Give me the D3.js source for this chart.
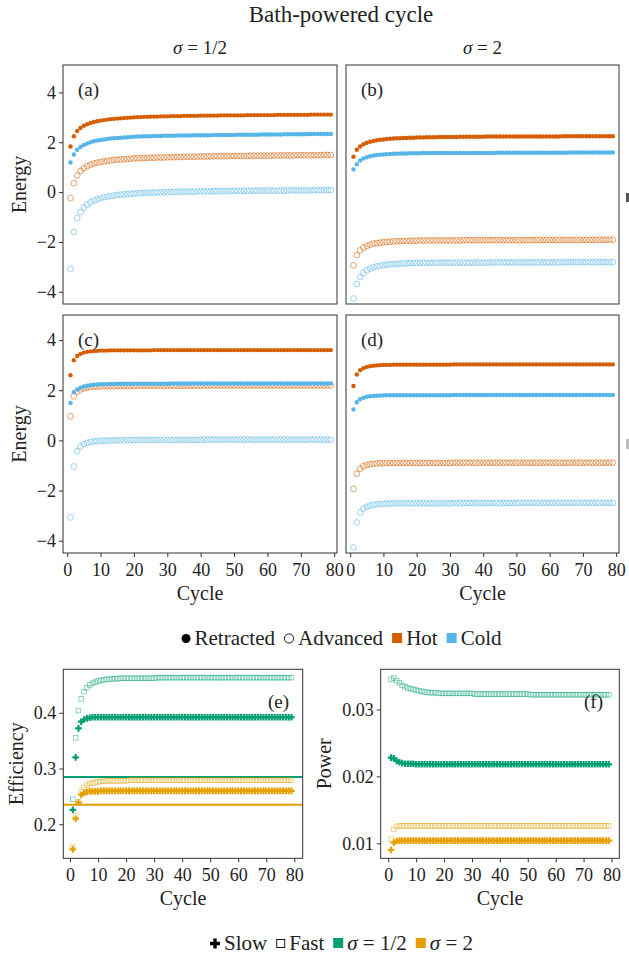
<!DOCTYPE html>
<html>
<head>
<meta charset="utf-8">
<script src="https://cdn.jsdelivr.net/npm/d3@7"></script>
<style>
  body { margin: 0; background: #fff; }
  text { font-family: "Liberation Serif", "Times New Roman", serif; fill: #222; }
</style>
</head>
<body>
<svg id="chart" width="629" height="956"></svg>
<script>
// ==========================================
// DATA (cycles 1..79)
// ==========================================
const cycles = d3.range(1, 80);

// panel (a): sigma = 1/2, top row
const aRH = [1.83,2.24,2.45,2.57,2.66,2.72,2.77,2.81,2.84,2.87,
  2.89,2.91,2.93,2.94,2.95,2.96,2.97,2.98,2.99,3.00,
  3.01,3.01,3.02,3.02,3.03,3.03,3.03,3.04,3.04,3.04,
  3.05,3.05,3.05,3.05,3.06,3.06,3.06,3.06,3.06,3.07,
  3.07,3.07,3.07,3.07,3.07,3.08,3.08,3.08,3.08,3.08,
  3.08,3.08,3.08,3.09,3.09,3.09,3.09,3.09,3.09,3.09,
  3.09,3.09,3.10,3.10,3.10,3.10,3.10,3.10,3.10,3.10,
  3.10,3.10,3.11,3.11,3.11,3.11,3.11,3.11,3.11];
const aRC = [1.19,1.51,1.70,1.81,1.89,1.95,2.00,2.04,2.07,2.09,
  2.11,2.13,2.15,2.16,2.17,2.18,2.19,2.20,2.21,2.22,
  2.23,2.23,2.24,2.24,2.24,2.25,2.25,2.25,2.26,2.26,
  2.26,2.26,2.27,2.27,2.27,2.27,2.27,2.28,2.28,2.28,
  2.28,2.28,2.28,2.29,2.29,2.29,2.29,2.29,2.29,2.29,
  2.30,2.30,2.30,2.30,2.30,2.30,2.30,2.31,2.31,2.31,
  2.31,2.31,2.31,2.31,2.32,2.32,2.32,2.32,2.32,2.32,
  2.32,2.33,2.33,2.33,2.33,2.33,2.33,2.33,2.33];
const aAH = [-0.24,0.36,0.67,0.85,0.96,1.04,1.10,1.15,1.18,1.21,
  1.23,1.25,1.27,1.29,1.30,1.31,1.32,1.33,1.34,1.35,
  1.36,1.36,1.37,1.37,1.38,1.38,1.39,1.39,1.39,1.40,
  1.40,1.40,1.41,1.41,1.41,1.42,1.42,1.42,1.42,1.43,
  1.43,1.43,1.43,1.44,1.44,1.44,1.44,1.44,1.45,1.45,
  1.45,1.45,1.45,1.45,1.46,1.46,1.46,1.46,1.46,1.46,
  1.46,1.47,1.47,1.47,1.47,1.47,1.47,1.47,1.48,1.48,
  1.48,1.48,1.48,1.48,1.48,1.48,1.49,1.49,1.49];
const aAC = [-3.08,-1.60,-1.04,-0.80,-0.62,-0.50,-0.41,-0.34,-0.29,-0.25,
  -0.21,-0.18,-0.16,-0.14,-0.12,-0.10,-0.09,-0.08,-0.07,-0.06,
  -0.05,-0.04,-0.03,-0.03,-0.02,-0.02,-0.01,-0.01,0.00,0.00,
  0.00,0.01,0.01,0.01,0.02,0.02,0.02,0.02,0.03,0.03,
  0.03,0.03,0.03,0.04,0.04,0.04,0.04,0.04,0.04,0.05,
  0.05,0.05,0.05,0.05,0.05,0.05,0.06,0.06,0.06,0.06,
  0.06,0.06,0.06,0.06,0.06,0.07,0.07,0.07,0.07,0.07,
  0.07,0.07,0.07,0.07,0.08,0.08,0.08,0.08,0.08];

// panel (b): sigma = 2, top row
const bRH = [1.42,1.70,1.83,1.92,1.98,2.02,2.05,2.08,2.10,2.11,
  2.13,2.14,2.15,2.16,2.16,2.17,2.17,2.18,2.18,2.19,
  2.19,2.19,2.20,2.20,2.20,2.20,2.21,2.21,2.21,2.21,
  2.21,2.21,2.22,2.22,2.22,2.22,2.22,2.22,2.22,2.22,
  2.23,2.23,2.23,2.23,2.23,2.23,2.23,2.23,2.23,2.23,
  2.23,2.23,2.23,2.23,2.23,2.23,2.23,2.23,2.23,2.23,
  2.23,2.23,2.23,2.24,2.24,2.24,2.24,2.24,2.24,2.24,
  2.24,2.24,2.24,2.24,2.24,2.24,2.24,2.24,2.24];
const bRC = [0.91,1.12,1.27,1.35,1.40,1.44,1.47,1.49,1.50,1.51,
  1.52,1.53,1.54,1.54,1.55,1.55,1.55,1.56,1.56,1.56,
  1.56,1.57,1.57,1.57,1.57,1.57,1.57,1.57,1.57,1.57,
  1.57,1.57,1.57,1.57,1.57,1.57,1.57,1.57,1.57,1.57,
  1.57,1.57,1.57,1.58,1.58,1.58,1.58,1.58,1.58,1.58,
  1.58,1.58,1.58,1.58,1.58,1.58,1.58,1.58,1.58,1.58,
  1.58,1.58,1.58,1.58,1.58,1.59,1.59,1.59,1.59,1.59,
  1.59,1.59,1.59,1.59,1.59,1.59,1.59,1.59,1.59];
const bAH = [-2.94,-2.53,-2.34,-2.23,-2.16,-2.11,-2.07,-2.05,-2.03,-2.01,
  -2.00,-1.99,-1.98,-1.97,-1.97,-1.96,-1.96,-1.95,-1.95,-1.95,
  -1.94,-1.94,-1.94,-1.94,-1.94,-1.94,-1.94,-1.94,-1.94,-1.94,
  -1.94,-1.94,-1.94,-1.93,-1.93,-1.93,-1.93,-1.93,-1.93,-1.93,
  -1.93,-1.93,-1.93,-1.93,-1.93,-1.93,-1.93,-1.93,-1.93,-1.93,
  -1.93,-1.93,-1.93,-1.93,-1.93,-1.92,-1.92,-1.92,-1.92,-1.92,
  -1.92,-1.92,-1.92,-1.92,-1.92,-1.92,-1.92,-1.92,-1.92,-1.92,
  -1.92,-1.92,-1.92,-1.92,-1.91,-1.91,-1.91,-1.91,-1.91];
const bAC = [-4.27,-3.69,-3.41,-3.25,-3.14,-3.07,-3.02,-2.98,-2.95,-2.93,
  -2.91,-2.90,-2.89,-2.88,-2.87,-2.86,-2.86,-2.85,-2.85,-2.84,
  -2.84,-2.84,-2.84,-2.84,-2.84,-2.83,-2.83,-2.83,-2.83,-2.83,
  -2.83,-2.83,-2.83,-2.83,-2.83,-2.83,-2.83,-2.83,-2.83,-2.83,
  -2.83,-2.83,-2.82,-2.82,-2.82,-2.82,-2.82,-2.82,-2.82,-2.82,
  -2.82,-2.82,-2.82,-2.82,-2.82,-2.82,-2.82,-2.82,-2.82,-2.82,
  -2.82,-2.82,-2.82,-2.82,-2.81,-2.81,-2.81,-2.81,-2.81,-2.81,
  -2.81,-2.81,-2.81,-2.81,-2.81,-2.81,-2.81,-2.81,-2.81];

// panel (c): sigma = 1/2, bottom row
const cRH = [2.60,3.20,3.37,3.45,3.50,3.53,3.55,3.56,3.57,3.58,
  3.58,3.58,3.59,3.59,3.59,3.59,3.59,3.59,3.59,3.59,
  3.59,3.59,3.59,3.59,3.59,3.60,3.60,3.60,3.60,3.60,
  3.60,3.60,3.60,3.60,3.60,3.60,3.60,3.60,3.60,3.60,
  3.60,3.60,3.60,3.60,3.60,3.60,3.60,3.60,3.60,3.60,
  3.60,3.60,3.60,3.60,3.60,3.60,3.60,3.60,3.60,3.60,
  3.60,3.60,3.60,3.60,3.60,3.60,3.60,3.60,3.60,3.60,
  3.60,3.60,3.60,3.60,3.60,3.60,3.60,3.60,3.60];
const cRC = [1.49,1.92,2.03,2.10,2.15,2.18,2.20,2.22,2.23,2.24,
  2.24,2.25,2.25,2.25,2.26,2.26,2.26,2.26,2.26,2.26,
  2.26,2.26,2.26,2.26,2.26,2.26,2.26,2.26,2.26,2.26,
  2.27,2.27,2.27,2.27,2.27,2.27,2.27,2.27,2.27,2.27,
  2.27,2.27,2.27,2.27,2.27,2.27,2.27,2.27,2.27,2.27,
  2.27,2.27,2.27,2.27,2.27,2.27,2.27,2.27,2.27,2.27,
  2.27,2.27,2.27,2.27,2.27,2.27,2.27,2.27,2.27,2.27,
  2.27,2.27,2.27,2.27,2.27,2.27,2.27,2.27,2.27];
const cAH = [0.96,1.76,1.95,2.03,2.08,2.11,2.13,2.14,2.15,2.15,
  2.16,2.16,2.16,2.16,2.17,2.17,2.17,2.17,2.17,2.17,
  2.18,2.18,2.18,2.18,2.18,2.18,2.18,2.18,2.18,2.18,
  2.18,2.18,2.18,2.18,2.18,2.18,2.18,2.18,2.18,2.18,
  2.19,2.19,2.19,2.19,2.19,2.19,2.19,2.19,2.19,2.19,
  2.19,2.19,2.19,2.19,2.19,2.19,2.19,2.19,2.19,2.19,
  2.19,2.19,2.19,2.19,2.19,2.19,2.19,2.19,2.19,2.19,
  2.19,2.19,2.19,2.19,2.19,2.19,2.19,2.19,2.19];
const cAC = [-3.07,-1.04,-0.43,-0.24,-0.15,-0.10,-0.06,-0.04,-0.03,-0.02,
  -0.01,-0.01,0.00,0.00,0.00,0.01,0.01,0.01,0.01,0.01,
  0.02,0.02,0.02,0.02,0.02,0.02,0.02,0.02,0.02,0.02,
  0.02,0.02,0.02,0.02,0.02,0.02,0.02,0.02,0.02,0.02,
  0.03,0.03,0.03,0.03,0.03,0.03,0.03,0.03,0.03,0.03,
  0.03,0.03,0.03,0.03,0.03,0.03,0.03,0.03,0.03,0.03,
  0.03,0.03,0.03,0.03,0.03,0.03,0.03,0.03,0.03,0.03,
  0.03,0.03,0.03,0.03,0.03,0.03,0.03,0.03,0.03];

// panel (d): sigma = 2, bottom row
const dRH = [2.17,2.63,2.80,2.88,2.93,2.96,2.98,2.99,3.00,3.01,
  3.01,3.01,3.02,3.02,3.02,3.02,3.02,3.02,3.02,3.02,
  3.02,3.02,3.02,3.02,3.02,3.02,3.02,3.02,3.02,3.02,
  3.03,3.03,3.03,3.03,3.03,3.03,3.03,3.03,3.03,3.03,
  3.03,3.03,3.03,3.03,3.03,3.03,3.03,3.03,3.03,3.03,
  3.03,3.03,3.03,3.03,3.03,3.03,3.03,3.03,3.03,3.03,
  3.03,3.03,3.03,3.03,3.03,3.03,3.03,3.03,3.03,3.03,
  3.03,3.03,3.03,3.03,3.03,3.03,3.03,3.03,3.03];
const dRC = [1.23,1.52,1.64,1.70,1.74,1.76,1.77,1.78,1.79,1.79,
  1.80,1.80,1.80,1.80,1.80,1.80,1.80,1.80,1.80,1.80,
  1.80,1.80,1.80,1.80,1.80,1.80,1.80,1.80,1.80,1.80,
  1.81,1.81,1.81,1.81,1.81,1.81,1.81,1.81,1.81,1.81,
  1.81,1.81,1.81,1.81,1.81,1.81,1.81,1.81,1.81,1.81,
  1.81,1.81,1.81,1.81,1.81,1.81,1.81,1.81,1.81,1.81,
  1.81,1.81,1.81,1.81,1.81,1.81,1.81,1.81,1.81,1.81,
  1.81,1.81,1.81,1.81,1.81,1.81,1.81,1.81,1.81];
const dAH = [-1.93,-1.33,-1.13,-1.03,-0.98,-0.95,-0.93,-0.92,-0.91,-0.91,
  -0.90,-0.90,-0.90,-0.90,-0.90,-0.90,-0.90,-0.90,-0.90,-0.90,
  -0.90,-0.90,-0.90,-0.90,-0.90,-0.90,-0.90,-0.90,-0.90,-0.90,
  -0.89,-0.89,-0.89,-0.89,-0.89,-0.89,-0.89,-0.89,-0.89,-0.89,
  -0.89,-0.89,-0.89,-0.89,-0.89,-0.89,-0.89,-0.89,-0.89,-0.89,
  -0.89,-0.89,-0.89,-0.89,-0.89,-0.89,-0.89,-0.89,-0.89,-0.89,
  -0.89,-0.89,-0.89,-0.89,-0.89,-0.89,-0.89,-0.89,-0.89,-0.89,
  -0.89,-0.89,-0.89,-0.89,-0.89,-0.89,-0.89,-0.89,-0.89];
const dAC = [-4.27,-3.27,-2.87,-2.72,-2.65,-2.60,-2.57,-2.55,-2.54,-2.53,
  -2.52,-2.52,-2.51,-2.51,-2.51,-2.51,-2.51,-2.51,-2.51,-2.51,
  -2.51,-2.51,-2.51,-2.51,-2.51,-2.51,-2.51,-2.51,-2.51,-2.51,
  -2.50,-2.50,-2.50,-2.50,-2.50,-2.50,-2.50,-2.50,-2.50,-2.50,
  -2.50,-2.50,-2.50,-2.50,-2.50,-2.50,-2.50,-2.50,-2.50,-2.50,
  -2.49,-2.49,-2.49,-2.49,-2.49,-2.49,-2.49,-2.49,-2.49,-2.49,
  -2.49,-2.49,-2.49,-2.49,-2.49,-2.49,-2.49,-2.49,-2.49,-2.49,
  -2.49,-2.49,-2.49,-2.49,-2.49,-2.49,-2.49,-2.49,-2.49];

// panel (e): efficiency, green = sigma 1/2, orange = sigma 2
const effGreenSlow = [0.226,0.320,0.372,0.384,0.388,0.390,0.391,0.392,0.392,0.392,
  0.392,0.392,0.392,0.392,0.392,0.392,0.392,0.392,0.392,0.392,
  0.392,0.392,0.392,0.392,0.392,0.392,0.392,0.392,0.392,0.392,
  0.392,0.392,0.392,0.392,0.392,0.392,0.392,0.392,0.392,0.392,
  0.392,0.392,0.392,0.392,0.392,0.392,0.392,0.392,0.392,0.392,
  0.392,0.392,0.392,0.392,0.392,0.392,0.392,0.392,0.392,0.392,
  0.392,0.392,0.392,0.392,0.392,0.392,0.392,0.392,0.392,0.392,
  0.392,0.392,0.392,0.392,0.392,0.392,0.392,0.392,0.392];
const effGreenFast = [0.245,0.355,0.404,0.425,0.438,0.445,0.450,0.453,0.455,0.457,
  0.458,0.459,0.460,0.460,0.461,0.461,0.461,0.462,0.462,0.462,
  0.462,0.462,0.462,0.462,0.462,0.462,0.462,0.462,0.462,0.462,
  0.463,0.463,0.463,0.463,0.463,0.463,0.463,0.463,0.463,0.463,
  0.463,0.463,0.463,0.463,0.463,0.463,0.463,0.463,0.463,0.463,
  0.463,0.463,0.463,0.463,0.463,0.463,0.463,0.463,0.463,0.463,
  0.463,0.463,0.463,0.463,0.463,0.463,0.463,0.463,0.463,0.463,
  0.463,0.463,0.463,0.463,0.463,0.463,0.463,0.463,0.463];
const effOrangeSlow = [0.155,0.210,0.239,0.253,0.256,0.258,0.259,0.259,0.259,0.259,
  0.260,0.260,0.260,0.260,0.260,0.260,0.260,0.260,0.260,0.260,
  0.260,0.260,0.260,0.260,0.260,0.260,0.260,0.260,0.260,0.260,
  0.260,0.260,0.260,0.260,0.260,0.260,0.260,0.260,0.260,0.260,
  0.260,0.260,0.260,0.260,0.260,0.260,0.260,0.260,0.260,0.260,
  0.260,0.260,0.260,0.260,0.260,0.260,0.260,0.260,0.260,0.260,
  0.260,0.260,0.260,0.260,0.260,0.260,0.260,0.260,0.260,0.260,
  0.260,0.260,0.260,0.260,0.260,0.260,0.260,0.260,0.260];
const effOrangeFast = [0.160,0.215,0.240,0.259,0.266,0.270,0.273,0.274,0.275,0.276,
  0.277,0.277,0.278,0.278,0.278,0.278,0.278,0.278,0.278,0.278,
  0.279,0.279,0.279,0.279,0.279,0.279,0.279,0.279,0.279,0.279,
  0.279,0.279,0.279,0.279,0.279,0.279,0.279,0.279,0.279,0.279,
  0.279,0.279,0.279,0.279,0.279,0.279,0.279,0.279,0.279,0.279,
  0.279,0.279,0.279,0.279,0.279,0.279,0.279,0.279,0.279,0.279,
  0.279,0.279,0.279,0.279,0.279,0.279,0.279,0.279,0.279,0.279,
  0.279,0.279,0.279,0.279,0.279,0.279,0.279,0.279,0.279];
const effRefLines = [0.285, 0.235]; // green, orange

// panel (f): power
const powGreenFast = [0.0345,0.0347,0.0343,0.0340,0.0336,0.0334,0.0332,0.0331,0.0330,0.0329,
  0.0328,0.0327,0.0326,0.0326,0.0325,0.0325,0.0325,0.0324,0.0324,0.0324,
  0.0324,0.0324,0.0324,0.0324,0.0324,0.0324,0.0324,0.0324,0.0324,0.0324,
  0.0323,0.0323,0.0323,0.0323,0.0323,0.0323,0.0323,0.0323,0.0323,0.0323,
  0.0323,0.0323,0.0323,0.0323,0.0323,0.0323,0.0323,0.0323,0.0323,0.0323,
  0.0322,0.0322,0.0322,0.0322,0.0322,0.0322,0.0322,0.0322,0.0322,0.0322,
  0.0322,0.0322,0.0322,0.0322,0.0322,0.0322,0.0322,0.0322,0.0322,0.0322,
  0.0322,0.0322,0.0322,0.0322,0.0322,0.0322,0.0322,0.0322,0.0322];
const powGreenSlow = [0.0228,0.0227,0.0223,0.0221,0.0220,0.0219,0.0219,0.0219,0.0219,0.0218,
  0.0218,0.0218,0.0218,0.0218,0.0218,0.0218,0.0218,0.0218,0.0218,0.0218,
  0.0218,0.0218,0.0218,0.0218,0.0218,0.0218,0.0218,0.0218,0.0218,0.0218,
  0.0218,0.0218,0.0218,0.0218,0.0218,0.0218,0.0218,0.0218,0.0218,0.0218,
  0.0218,0.0218,0.0218,0.0218,0.0218,0.0218,0.0218,0.0218,0.0218,0.0218,
  0.0218,0.0218,0.0218,0.0218,0.0218,0.0218,0.0218,0.0218,0.0218,0.0218,
  0.0218,0.0218,0.0218,0.0218,0.0218,0.0218,0.0218,0.0218,0.0218,0.0218,
  0.0218,0.0218,0.0218,0.0218,0.0218,0.0218,0.0218,0.0218,0.0218];
const powOrangeFast = [0.0106,0.0121,0.0125,0.0126,0.0126,0.0126,0.0126,0.0126,0.0126,0.0126,
  0.0126,0.0126,0.0126,0.0126,0.0126,0.0126,0.0126,0.0126,0.0126,0.0126,
  0.0126,0.0126,0.0126,0.0126,0.0126,0.0126,0.0126,0.0126,0.0126,0.0126,
  0.0126,0.0126,0.0126,0.0126,0.0126,0.0126,0.0126,0.0126,0.0126,0.0126,
  0.0126,0.0126,0.0126,0.0126,0.0126,0.0126,0.0126,0.0126,0.0126,0.0126,
  0.0126,0.0126,0.0126,0.0126,0.0126,0.0126,0.0126,0.0126,0.0126,0.0126,
  0.0126,0.0126,0.0126,0.0126,0.0126,0.0126,0.0126,0.0126,0.0126,0.0126,
  0.0126,0.0126,0.0126,0.0126,0.0126,0.0126,0.0126,0.0126,0.0126];
const powOrangeSlow = [0.0090,0.0101,0.0103,0.0104,0.0104,0.0104,0.0104,0.0104,0.0104,0.0104,
  0.0104,0.0104,0.0104,0.0104,0.0104,0.0104,0.0104,0.0104,0.0104,0.0104,
  0.0104,0.0104,0.0104,0.0104,0.0104,0.0104,0.0104,0.0104,0.0104,0.0104,
  0.0104,0.0104,0.0104,0.0104,0.0104,0.0104,0.0104,0.0104,0.0104,0.0104,
  0.0104,0.0104,0.0104,0.0104,0.0104,0.0104,0.0104,0.0104,0.0104,0.0104,
  0.0104,0.0104,0.0104,0.0104,0.0104,0.0104,0.0104,0.0104,0.0104,0.0104,
  0.0104,0.0104,0.0104,0.0104,0.0104,0.0104,0.0104,0.0104,0.0104,0.0104,
  0.0104,0.0104,0.0104,0.0104,0.0104,0.0104,0.0104,0.0104,0.0104];

const energyTicks = [-4, -2, 0, 2, 4];
const cycleTicks = [0, 10, 20, 30, 40, 50, 60, 70, 80];
const effTicks = [0.2, 0.3, 0.4];
const powTicks = [0.01, 0.02, 0.03];
const columnLabels = ["σ = 1/2", "σ = 2"];
const energyLegend = ["Retracted", "Advanced", "Hot", "Cold"];
const perfLegend = ["Slow", "Fast", "σ = 1/2", "σ = 2"];

// ==========================================
// STYLE / LAYOUT
// ==========================================
const HOT = "#D55E00", COLD = "#56B4E9", GREEN = "#009E73", ORANGE = "#E69F00";
const INK = "#333";
const svg = d3.select("#chart");

function mathText(sel, str) {
  if (str.startsWith("σ")) {
    sel.append("tspan").attr("font-style", "italic").text("σ");
    sel.append("tspan").text(str.slice(1));
  } else {
    sel.text(str);
  }
  return sel;
}

const minus = d => (d < 0 ? "\u2212" + Math.abs(d) : String(d));

function styleAxis(g, fontSize) {
  g.select(".domain").remove();
  g.selectAll(".tick line").attr("stroke", INK);
  g.selectAll(".tick text")
    .attr("fill", "#2a2a2a")
    .style("font-size", fontSize + "px")
    .style("font-family", '"Liberation Serif", "Times New Roman", serif');
}

function frame(p) {
  svg.append("rect")
    .attr("x", p.x0).attr("y", p.y0)
    .attr("width", p.x1 - p.x0).attr("height", p.y1 - p.y0)
    .attr("fill", "none").attr("stroke", INK).attr("stroke-width", 1);
}

// ==========================================
// ENERGY PANELS (a)-(d)
// ==========================================
const energyPanels = [
  { label: "(a)", x0: 63,  x1: 337, y0: 65,  y1: 304, yDom: [-4.49, 5.1], left: true,  bottom: false, series: [aRH, aRC, aAH, aAC] },
  { label: "(b)", x0: 346, x1: 619, y0: 65,  y1: 304, yDom: [-4.49, 5.1], left: false, bottom: false, series: [bRH, bRC, bAH, bAC] },
  { label: "(c)", x0: 63,  x1: 337, y0: 315, y1: 553, yDom: [-4.49, 5.0], left: true,  bottom: true,  series: [cRH, cRC, cAH, cAC] },
  { label: "(d)", x0: 346, x1: 619, y0: 315, y1: 553, yDom: [-4.49, 5.0], left: false, bottom: true,  series: [dRH, dRC, dAH, dAC] }
];

energyPanels.forEach(p => {
  const x = d3.scaleLinear().domain([-1.25, 80.85]).range([p.x0, p.x1]);
  const y = d3.scaleLinear().domain(p.yDom).range([p.y1, p.y0]);

  if (p.left) {
    svg.append("g").attr("transform", `translate(${p.x0},0)`)
      .call(d3.axisLeft(y).tickValues(energyTicks).tickFormat(minus).tickSize(4).tickPadding(3))
      .call(g => styleAxis(g, 18));
    svg.append("text")
      .attr("transform", `translate(26,${(p.y0 + p.y1) / 2}) rotate(-90)`)
      .attr("text-anchor", "middle").style("font-size", "20px").text("Energy");
  }
  if (p.bottom) {
    svg.append("g").attr("transform", `translate(0,${p.y1})`)
      .call(d3.axisBottom(x).tickValues(cycleTicks).tickSize(4).tickPadding(6))
      .call(g => styleAxis(g, 18));
    svg.append("text")
      .attr("x", (p.x0 + p.x1) / 2).attr("y", 600)
      .attr("text-anchor", "middle").style("font-size", "20px").text("Cycle");
  }

  // advanced (open) first, retracted (filled) on top
  [2, 3, 0, 1].forEach(k => {
    const open = k >= 2;
    const col = k % 2 === 0 ? HOT : COLD;
    svg.append("g").selectAll("circle")
      .data(p.series[k].map((v, i) => ({ c: cycles[i], v })))
      .join("circle")
      .attr("cx", d => x(d.c)).attr("cy", d => y(d.v))
      .attr("r", open ? 2.9 : 2.2)
      .attr("fill", open ? "none" : col)
      .attr("stroke", open ? col : "none")
      .attr("stroke-width", 0.8)
      .attr("opacity", open ? 0.72 : 1);
  });

  frame(p);
  svg.append("text")
    .attr("x", p.x0 + 15).attr("y", p.y0 + 31)
    .style("font-size", "19px").text(p.label);
});

// column strip labels and title
[energyPanels[0], energyPanels[1]].forEach((p, i) => {
  mathText(svg.append("text")
    .attr("x", (p.x0 + p.x1) / 2).attr("y", 54)
    .attr("text-anchor", "middle").style("font-size", "19px"), columnLabels[i]);
});

svg.append("text")
  .attr("x", 341).attr("y", 22)
  .attr("text-anchor", "middle").style("font-size", "23px")
  .text("Bath-powered cycle");

// ==========================================
// EFFICIENCY / POWER PANELS (e)-(f)
// ==========================================
const perfPanels = [
  { label: "(e)", x0: 63.3,  x1: 302.7, y0: 669.3, y1: 858.3, xDom: [-2.4, 83.0], yDom: [0.139, 0.478],
    ticks: effTicks, fmt: d3.format(".1f"), title: "Efficiency", titleX: 23, labelX: 289,
    series: [effGreenSlow, effGreenFast, effOrangeSlow, effOrangeFast], ref: effRefLines },
  { label: "(f)", x0: 380.7, x1: 619.3, y0: 669.3, y1: 858.3, xDom: [-2.7, 82.8], yDom: [0.00776, 0.036],
    ticks: powTicks, fmt: d3.format(".2f"), title: "Power", titleX: 331, labelX: 603,
    series: [powGreenSlow, powGreenFast, powOrangeSlow, powOrangeFast], ref: null }
];

const cross = d3.symbol().type(d3.symbolCross).size(24);

perfPanels.forEach(p => {
  const x = d3.scaleLinear().domain(p.xDom).range([p.x0, p.x1]);
  const y = d3.scaleLinear().domain(p.yDom).range([p.y1, p.y0]);

  svg.append("g").attr("transform", `translate(${p.x0},0)`)
    .call(d3.axisLeft(y).tickValues(p.ticks).tickFormat(p.fmt).tickSize(4).tickPadding(3))
    .call(g => styleAxis(g, 18));
  svg.append("g").attr("transform", `translate(0,${p.y1})`)
    .call(d3.axisBottom(x).tickValues(cycleTicks).tickSize(4).tickPadding(6))
    .call(g => styleAxis(g, 18));

  svg.append("text")
    .attr("transform", `translate(${p.titleX},${(p.y0 + p.y1) / 2}) rotate(-90)`)
    .attr("text-anchor", "middle").style("font-size", "20px").text(p.title);
  svg.append("text")
    .attr("x", (p.x0 + p.x1) / 2).attr("y", 905)
    .attr("text-anchor", "middle").style("font-size", "20px").text("Cycle");

  if (p.ref) {
    svg.append("g").selectAll("line")
      .data(p.ref.map((v, i) => ({ v, col: i === 0 ? GREEN : ORANGE })))
      .join("line")
      .attr("x1", p.x0).attr("x2", p.x1)
      .attr("y1", d => y(d.v)).attr("y2", d => y(d.v))
      .attr("stroke", d => d.col).attr("stroke-width", 2);
  }

  p.series.forEach((arr, k) => {
    const col = k < 2 ? GREEN : ORANGE;
    const fast = k % 2 === 1;
    const pts = arr.map((v, i) => ({ c: cycles[i], v }));
    if (fast) {
      svg.append("g").selectAll("rect")
        .data(pts).join("rect")
        .attr("x", d => x(d.c) - 2.3).attr("y", d => y(d.v) - 2.3)
        .attr("width", 4.6).attr("height", 4.6)
        .attr("fill", "none").attr("stroke", col).attr("stroke-width", 0.8)
        .attr("opacity", 0.55);
    } else {
      svg.append("g").selectAll("path")
        .data(pts).join("path")
        .attr("transform", d => `translate(${x(d.c)},${y(d.v)})`)
        .attr("d", cross).attr("fill", col);
    }
  });

  frame(p);
  svg.append("text")
    .attr("x", p.labelX).attr("y", 708)
    .attr("text-anchor", "end").style("font-size", "19px").text(p.label);
});

// ==========================================
// LEGENDS
// ==========================================
function legend(labels, symbols, baseline) {
  const g = svg.append("g");
  let cx = 0;
  labels.forEach((lab, i) => {
    const s = symbols[i];
    if (i > 0) cx += 9;
    s.draw(g, cx, baseline);
    cx += s.w + 4;
    const t = mathText(g.append("text").attr("x", cx).attr("y", baseline).style("font-size", "21px"), lab);
    cx += t.node().getComputedTextLength();
  });
  g.attr("transform", `translate(${341.5 - cx / 2},0)`);
}

const sqSym = col => ({ w: 10, draw: (g, x0, b) => g.append("rect").attr("x", x0).attr("y", b - 12).attr("width", 10).attr("height", 10).attr("fill", col) });

legend(energyLegend, [
  { w: 9, draw: (g, x0, b) => g.append("circle").attr("cx", x0 + 4.5).attr("cy", b - 6.5).attr("r", 4.5).attr("fill", "#000") },
  { w: 10, draw: (g, x0, b) => g.append("circle").attr("cx", x0 + 5).attr("cy", b - 6.5).attr("r", 4.6).attr("fill", "none").attr("stroke", "#000").attr("stroke-width", 0.9) },
  sqSym(HOT),
  sqSym(COLD)
], 645);

legend(perfLegend, [
  { w: 10, draw: (g, x0, b) => g.append("path").attr("transform", `translate(${x0 + 5},${b - 6.5})`).attr("d", d3.symbol().type(d3.symbolCross).size(56)()).attr("fill", "#000") },
  { w: 9, draw: (g, x0, b) => g.append("rect").attr("x", x0 + 0.5).attr("y", b - 10.5).attr("width", 8).attr("height", 8).attr("fill", "none").attr("stroke", "#000").attr("stroke-width", 0.9) },
  sqSym(GREEN),
  sqSym(ORANGE)
], 950);

// clipped remnants at the right edge of the original figure
svg.append("rect").attr("x", 626).attr("y", 193).attr("width", 3).attr("height", 9).attr("fill", "#555");
svg.append("rect").attr("x", 626).attr("y", 439).attr("width", 3).attr("height", 10).attr("fill", "#bbb");
</script>
</body>
</html>
